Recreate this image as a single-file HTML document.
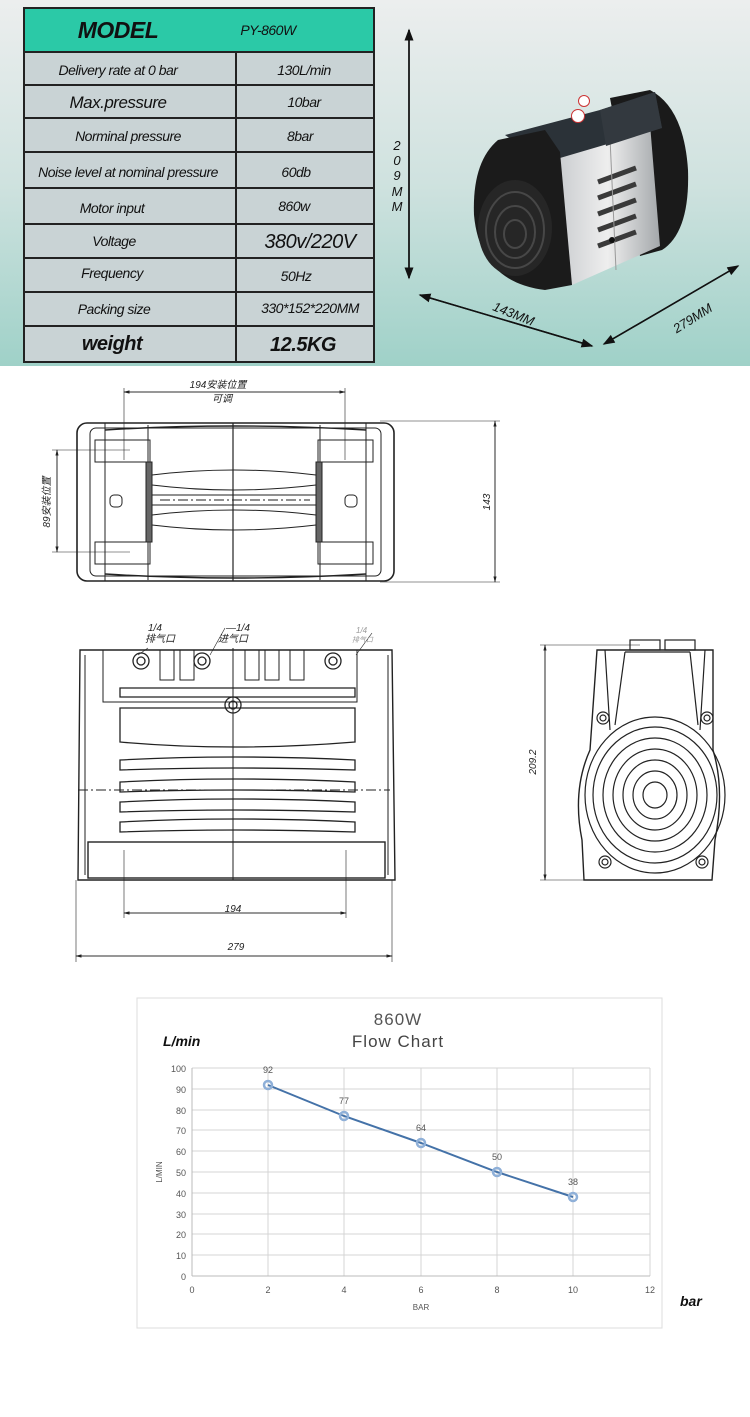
<!DOCTYPE html>
<html><head><meta charset="utf-8"><style>
html,body{margin:0;padding:0;background:#fff}
svg{display:block}
text{font-family:"Liberation Sans","Noto Sans CJK SC",sans-serif}
</style></head><body>
<svg width="750" height="1417" viewBox="0 0 750 1417" xmlns="http://www.w3.org/2000/svg">
<defs>
<linearGradient id="bg" x1="0" y1="0" x2="0" y2="1">
<stop offset="0" stop-color="#eceeee"/><stop offset="0.5" stop-color="#cfe2df"/><stop offset="1" stop-color="#9fd1c8"/></linearGradient>
<linearGradient id="alu" x1="0" y1="0" x2="1" y2="0"><stop offset="0" stop-color="#c8cbce"/><stop offset="0.5" stop-color="#eeeeee"/><stop offset="1" stop-color="#a4a8ab"/></linearGradient>
<marker id="ah" markerWidth="8" markerHeight="8" refX="7" refY="4" orient="auto"><path d="M0,1 L8,4 L0,7 Z" fill="#111"/></marker>
<marker id="as" markerWidth="8" markerHeight="8" refX="7" refY="4" orient="auto"><path d="M0,2 L8,4 L0,6 Z" fill="#222"/></marker>
</defs>
<rect x="0" y="0" width="750" height="366" fill="url(#bg)"/>
<!-- table -->
<g stroke="#222" stroke-width="2" fill="#111">
<rect x="24" y="8" width="350" height="44" fill="#2bc9a7"/>
<rect x="24" y="52" width="350" height="310" fill="#c9d3d5"/>
<g fill="none">
<line x1="24" y1="85" x2="374" y2="85"/><line x1="24" y1="118" x2="374" y2="118"/>
<line x1="24" y1="152" x2="374" y2="152"/><line x1="24" y1="188" x2="374" y2="188"/>
<line x1="24" y1="224" x2="374" y2="224"/><line x1="24" y1="258" x2="374" y2="258"/>
<line x1="24" y1="292" x2="374" y2="292"/><line x1="24" y1="326" x2="374" y2="326"/>
<line x1="236" y1="52" x2="236" y2="362"/>
</g>
</g>
<g font-style="italic" text-anchor="middle" fill="#111" letter-spacing="-0.5">
<text x="118" y="38" font-size="23" font-weight="bold">MODEL</text>
<text x="268" y="35" font-size="14">PY-860W</text>
<text x="118" y="75" font-size="14">Delivery rate at 0 bar</text><text x="304" y="75" font-size="14">130L/min</text>
<text x="118" y="108" font-size="17">Max.pressure</text><text x="304" y="107" font-size="14">10bar</text>
<text x="128" y="141" font-size="14">Norminal pressure</text><text x="300" y="141" font-size="14">8bar</text>
<text x="128" y="177" font-size="14">Noise level at nominal pressure</text><text x="296" y="177" font-size="14">60db</text>
<text x="112" y="213" font-size="14">Motor input</text><text x="294" y="211" font-size="14">860w</text>
<text x="114" y="246" font-size="14">Voltage</text><text x="310" y="248" font-size="20">380v/220V</text>
<text x="112" y="278" font-size="14">Frequency</text><text x="296" y="281" font-size="14">50Hz</text>
<text x="114" y="314" font-size="14">Packing size</text><text x="310" y="313" font-size="14">330*152*220MM</text>
<text x="112" y="350" font-size="20" font-weight="bold">weight</text><text x="303" y="351" font-size="20" font-weight="bold">12.5KG</text>
</g>
<!-- dimension arrows top -->
<g stroke="#111" stroke-width="1.5" fill="none">
<line x1="409" y1="278" x2="409" y2="30" marker-end="url(#ah)"/>
<line x1="409" y1="30" x2="409" y2="278" marker-end="url(#ah)"/>
<line x1="420" y1="295" x2="592" y2="346" marker-end="url(#ah)"/>
<line x1="592" y1="346" x2="420" y2="295" marker-end="url(#ah)"/>
<line x1="604" y1="344" x2="738" y2="266" marker-end="url(#ah)"/>
<line x1="738" y1="266" x2="604" y2="344" marker-end="url(#ah)"/>
</g>
<g font-style="italic" font-size="13" fill="#111" text-anchor="middle">
<text x="397" y="150">2</text><text x="397" y="165">0</text><text x="397" y="180">9</text><text x="397" y="196">M</text><text x="397" y="211">M</text>
<text x="512" y="318" transform="rotate(22 512 318)">143MM</text>
<text x="695" y="322" transform="rotate(-32 695 322)">279MM</text>
</g>
<!-- pump photo approx -->
<g>
<path d="M610,98 L650,90 Q684,108 688,170 Q690,232 662,250 L640,256 Z" fill="#1a1a1a"/>
<path d="M555,150 L650,124 L660,246 L572,285 Z" fill="url(#alu)"/>
<g stroke="#3a3a3a" stroke-width="5"><line x1="598" y1="182" x2="636" y2="168"/><line x1="598" y1="198" x2="636" y2="184"/><line x1="598" y1="214" x2="636" y2="200"/><line x1="598" y1="230" x2="636" y2="216"/><line x1="598" y1="246" x2="636" y2="232"/></g>
<line x1="610" y1="138" x2="616" y2="270" stroke="#999" stroke-width="1"/>
<path d="M505,135 L600,110 L655,92 L662,128 L560,158 L530,152 Z" fill="#2b3238"/>
<path d="M600,110 L655,92 L662,128 L606,146 Z" fill="#33393f"/>
<circle cx="578" cy="116" r="6.5" fill="#fff" stroke="#c33" stroke-width="1"/><circle cx="584" cy="101" r="5.5" fill="#fff" stroke="#c33" stroke-width="1"/>
<path d="M498,140 L545,130 L560,152 L572,285 L545,290 Q480,282 474,215 Q472,162 498,140 Z" fill="#1b1b1b"/>
<ellipse cx="515" cy="228" rx="37" ry="48" fill="#262626"/>
<g fill="none" stroke="#474747" stroke-width="2"><ellipse cx="515" cy="230" rx="29" ry="38"/><ellipse cx="515" cy="232" rx="20" ry="26"/><ellipse cx="515" cy="234" rx="11" ry="14"/></g>
<circle cx="612" cy="240" r="3" fill="#111"/>
</g>
<!-- TOP VIEW drawing -->
<g stroke="#222" fill="none" stroke-width="1">
<line x1="124" y1="392" x2="345" y2="392" stroke-width="0.8" marker-end="url(#as)"/>
<line x1="345" y1="392" x2="124" y2="392" stroke-width="0.8" marker-end="url(#as)"/>
<line x1="124" y1="388" x2="124" y2="460" stroke-width="0.6"/><line x1="345" y1="388" x2="345" y2="460" stroke-width="0.6"/>
<line x1="380" y1="421" x2="500" y2="421" stroke-width="0.6"/><line x1="380" y1="582" x2="500" y2="582" stroke-width="0.6"/>
<line x1="495" y1="421" x2="495" y2="582" stroke-width="0.8" marker-end="url(#as)"/><line x1="495" y1="582" x2="495" y2="421" stroke-width="0.8" marker-end="url(#as)"/>
<line x1="52" y1="450" x2="130" y2="450" stroke-width="0.6"/><line x1="52" y1="552" x2="130" y2="552" stroke-width="0.6"/>
<line x1="57" y1="450" x2="57" y2="552" stroke-width="0.8" marker-end="url(#as)"/><line x1="57" y1="552" x2="57" y2="450" stroke-width="0.8" marker-end="url(#as)"/>
<rect x="77" y="423" width="317" height="158" rx="10" stroke-width="1.6"/>
<rect x="90" y="428" width="291" height="148" rx="6"/>
<line x1="105" y1="423" x2="105" y2="581"/><line x1="366" y1="423" x2="366" y2="581"/>
<line x1="148" y1="425" x2="148" y2="580"/><line x1="320" y1="425" x2="320" y2="580"/>
<line x1="233" y1="423" x2="233" y2="581" stroke-width="1.2"/>
<path d="M105,430 Q233,422 366,430 M105,574 Q233,582 366,574" stroke-width="1.4"/>
<rect x="95" y="440" width="55" height="22"/><rect x="318" y="440" width="55" height="22"/>
<rect x="95" y="542" width="55" height="22"/><rect x="318" y="542" width="55" height="22"/>
<rect x="146" y="462" width="6" height="80" fill="#666"/><rect x="316" y="462" width="6" height="80" fill="#666"/>
<path d="M152,475 Q233,465 316,475 M152,485 Q233,495 316,485 M152,495 L316,495 M152,505 L316,505 M152,515 Q233,505 316,515 M152,525 Q233,535 316,525"/>
<rect x="110" y="495" width="12" height="12" rx="4"/><rect x="345" y="495" width="12" height="12" rx="4"/>
<line x1="160" y1="500" x2="310" y2="500" stroke-dasharray="10,3,2,3"/>
</g>
<text x="218" y="388" font-size="10" font-style="italic" fill="#222" text-anchor="middle">194安装位置</text>
<text x="222" y="402" font-size="10" font-style="italic" fill="#222" text-anchor="middle">可调</text>
<text x="490" y="502" font-size="10" font-style="italic" fill="#222" text-anchor="middle" transform="rotate(-90 490 502)">143</text>
<text x="50" y="502" font-size="10" font-style="italic" fill="#222" text-anchor="middle" transform="rotate(-90 50 502)">89安装位置</text>
<!-- FRONT VIEW -->
<g stroke="#222" fill="none" stroke-width="1">
<path d="M80,650 L392,650 L395,880 L78,880 Z" stroke-width="1.4"/>
<rect x="103" y="650" width="254" height="52"/>
<line x1="85" y1="655" x2="85" y2="875"/><line x1="388" y1="655" x2="388" y2="875"/>
<line x1="233" y1="648" x2="233" y2="880"/>
<g stroke-width="1.3">
<circle cx="141" cy="661" r="8"/><circle cx="141" cy="661" r="4"/>
<circle cx="202" cy="661" r="8"/><circle cx="202" cy="661" r="4"/>
<circle cx="333" cy="661" r="8"/><circle cx="333" cy="661" r="4"/>
<circle cx="233" cy="705" r="8"/><circle cx="233" cy="705" r="4"/>
</g>
<rect x="160" y="650" width="14" height="30"/><rect x="180" y="650" width="14" height="30"/>
<rect x="245" y="650" width="14" height="30"/><rect x="265" y="650" width="14" height="30"/><rect x="290" y="650" width="14" height="30"/>
<g stroke-width="1.3">
<path d="M120,688 L355,688 L355,697 L120,697 Z"/>
<path d="M120,708 L355,708 L355,742 Q233,752 120,742 Z"/>
<path d="M120,760 Q233,754 355,760 L355,770 Q233,766 120,770 Z"/>
<path d="M120,782 Q233,776 355,782 L355,792 Q233,788 120,792 Z"/>
<path d="M120,802 Q233,796 355,802 L355,812 Q233,808 120,812 Z"/>
<path d="M120,822 Q233,816 355,822 L355,832 Q233,828 120,832 Z"/>
</g>
<rect x="88" y="842" width="297" height="36" stroke-width="1.4"/>
<line x1="78" y1="790" x2="390" y2="790" stroke-dasharray="10,3,2,3"/>
<line x1="124" y1="850" x2="124" y2="918" stroke-width="0.6"/><line x1="346" y1="850" x2="346" y2="918" stroke-width="0.6"/>
<line x1="124" y1="913" x2="346" y2="913" marker-end="url(#as)" stroke-width="0.8"/><line x1="346" y1="913" x2="124" y2="913" marker-end="url(#as)" stroke-width="0.8"/>
<line x1="76" y1="880" x2="76" y2="962" stroke-width="0.6"/><line x1="392" y1="880" x2="392" y2="962" stroke-width="0.6"/>
<line x1="76" y1="956" x2="392" y2="956" marker-end="url(#as)" stroke-width="0.8"/><line x1="392" y1="956" x2="76" y2="956" marker-end="url(#as)" stroke-width="0.8"/>
<line x1="148" y1="648" x2="138" y2="655" stroke-width="0.6"/><line x1="225" y1="628" x2="210" y2="655" stroke-width="0.6"/><line x1="372" y1="633" x2="356" y2="655" stroke-width="0.6"/>
</g>
<g font-size="10" font-style="italic" fill="#222">
<text x="148" y="631">1/4</text><text x="145" y="642">排气口</text>
<text x="226" y="631">—1/4</text><text x="218" y="642">进气口</text>
<text x="356" y="633" font-size="8" fill="#999">1/4</text><text x="352" y="642" font-size="7" fill="#999">排气口</text>
<text x="233" y="912" text-anchor="middle">194</text><text x="236" y="950" text-anchor="middle">279</text>
<text x="536" y="762" text-anchor="middle" transform="rotate(-90 536 762)">209.2</text>
</g>
<!-- SIDE VIEW -->
<g stroke="#222" fill="none" stroke-width="1.2">
<line x1="540" y1="645" x2="640" y2="645" stroke-width="0.6"/><line x1="540" y1="880" x2="640" y2="880" stroke-width="0.6"/>
<line x1="545" y1="645" x2="545" y2="880" marker-end="url(#as)" stroke-width="0.8"/><line x1="545" y1="880" x2="545" y2="645" marker-end="url(#as)" stroke-width="0.8"/>
<path d="M597,650 L713,650 L713,750 Q725,790 715,840 L712,880 L584,880 L582,840 Q572,790 590,750 Z" stroke-width="1.4"/>
<path d="M605,650 L610,730 M705,650 L700,730 M625,652 L615,725 M690,652 L698,725 M625,652 L690,652"/>
<ellipse cx="655" cy="795" rx="70" ry="78"/><ellipse cx="655" cy="795" rx="62" ry="68"/><ellipse cx="655" cy="795" rx="52" ry="57"/>
<ellipse cx="655" cy="795" rx="42" ry="46"/><ellipse cx="655" cy="795" rx="32" ry="35"/><ellipse cx="655" cy="795" rx="22" ry="24"/><ellipse cx="655" cy="795" rx="12" ry="13"/>
<circle cx="603" cy="718" r="6"/><circle cx="603" cy="718" r="3"/><circle cx="707" cy="718" r="6"/><circle cx="707" cy="718" r="3"/>
<circle cx="605" cy="862" r="6"/><circle cx="605" cy="862" r="3"/><circle cx="702" cy="862" r="6"/><circle cx="702" cy="862" r="3"/>
<rect x="630" y="640" width="30" height="10"/><rect x="665" y="640" width="30" height="10"/>
</g>
<!-- CHART -->
<rect x="137" y="998" width="525" height="330" fill="#fff" stroke="#ddd"/>
<g stroke="#d4d4d4" stroke-width="1">
<line x1="192" y1="1068" x2="650" y2="1068"/><line x1="192" y1="1089" x2="650" y2="1089"/><line x1="192" y1="1110" x2="650" y2="1110"/>
<line x1="192" y1="1130" x2="650" y2="1130"/><line x1="192" y1="1151" x2="650" y2="1151"/><line x1="192" y1="1172" x2="650" y2="1172"/>
<line x1="192" y1="1193" x2="650" y2="1193"/><line x1="192" y1="1214" x2="650" y2="1214"/><line x1="192" y1="1234" x2="650" y2="1234"/>
<line x1="192" y1="1255" x2="650" y2="1255"/>
<line x1="268" y1="1068" x2="268" y2="1276"/><line x1="344" y1="1068" x2="344" y2="1276"/><line x1="421" y1="1068" x2="421" y2="1276"/>
<line x1="497" y1="1068" x2="497" y2="1276"/><line x1="573" y1="1068" x2="573" y2="1276"/><line x1="650" y1="1068" x2="650" y2="1276"/>
</g>
<line x1="192" y1="1068" x2="192" y2="1276" stroke="#bbb"/><line x1="192" y1="1276" x2="650" y2="1276" stroke="#bbb"/>
<polyline points="268,1085 344,1116 421,1143 497,1172 573,1197" fill="none" stroke="#4472a8" stroke-width="2"/>
<g fill="none" stroke="#8fb0d8" stroke-width="2.5">
<circle cx="268" cy="1085" r="4"/><circle cx="344" cy="1116" r="4"/><circle cx="421" cy="1143" r="4"/><circle cx="497" cy="1172" r="4"/><circle cx="573" cy="1197" r="4"/></g>
<g font-size="9" fill="#555" text-anchor="middle" font-family="Liberation Serif,serif">
<text x="268" y="1073">92</text><text x="344" y="1104">77</text><text x="421" y="1131">64</text><text x="497" y="1160">50</text><text x="573" y="1185">38</text>
</g>
<g font-size="9" fill="#555" text-anchor="end">
<text x="186" y="1072">100</text><text x="186" y="1093">90</text><text x="186" y="1114">80</text><text x="186" y="1134">70</text><text x="186" y="1155">60</text>
<text x="186" y="1176">50</text><text x="186" y="1197">40</text><text x="186" y="1218">30</text><text x="186" y="1238">20</text><text x="186" y="1259">10</text><text x="186" y="1280">0</text>
</g>
<g font-size="9" fill="#555" text-anchor="middle">
<text x="192" y="1293">0</text><text x="268" y="1293">2</text><text x="344" y="1293">4</text><text x="421" y="1293">6</text><text x="497" y="1293">8</text><text x="573" y="1293">10</text><text x="650" y="1293">12</text>
<text x="421" y="1310" font-size="8">BAR</text>
<text x="162" y="1172" font-size="8" transform="rotate(-90 162 1172)">L/MIN</text>
</g>
<text x="398" y="1025" font-size="17" fill="#555" text-anchor="middle" font-family="Liberation Serif,serif" letter-spacing="1">860W</text>
<text x="398" y="1047" font-size="17" fill="#444" text-anchor="middle" font-family="Liberation Serif,serif" letter-spacing="1">Flow Chart</text>
<text x="163" y="1046" font-size="14" font-weight="bold" font-style="italic" fill="#111">L/min</text>
<text x="680" y="1306" font-size="14" font-weight="bold" font-style="italic" fill="#111">bar</text>
</svg>
</body></html>
